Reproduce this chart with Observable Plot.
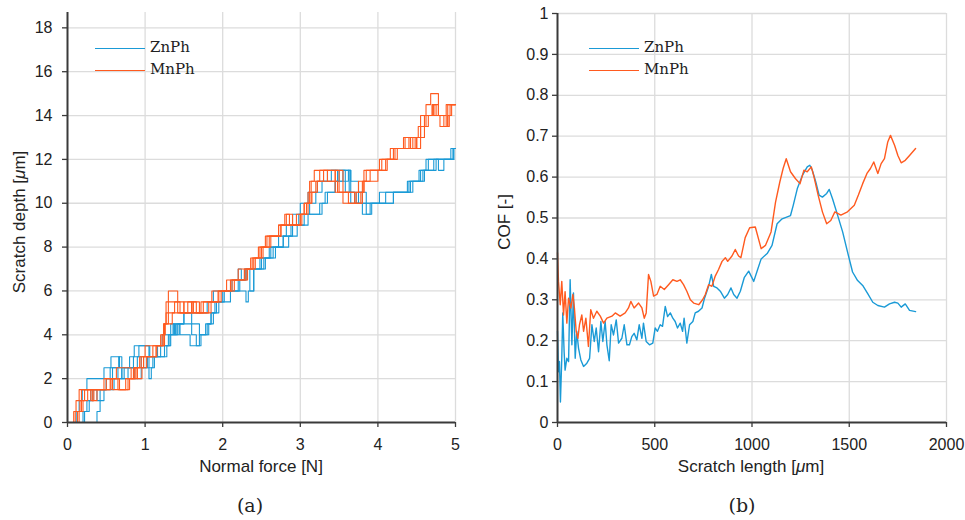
<!DOCTYPE html>
<html>
<head>
<meta charset="utf-8">
<script src="https://cdn.jsdelivr.net/npm/d3@7"></script>
<script src="https://cdn.jsdelivr.net/npm/@observablehq/plot@0.6"></script>
<style>
  html, body { margin: 0; padding: 0; background: #fff; }
  #wrap { position: relative; width: 965px; height: 520px; overflow: hidden; font-family: "Liberation Sans", Arial, sans-serif; color: #222; }
  .panel { position: absolute; top: 0; }
  .t { position: absolute; white-space: nowrap; font-size: 17px; color: #222; transform: translate(-50%, -50%); }
  .rot { transform: translate(-50%, -50%) rotate(-90deg); }
  .cap { position: absolute; font-family: "DejaVu Serif", serif; font-size: 19px; color: #222; transform: translate(-50%, -50%); }
  .leg { position: absolute; font-family: "DejaVu Serif", serif; font-size: 15px; color: #222; }
  .leg div { position: absolute; white-space: nowrap; }
  .leg span.sw { display: inline-block; width: 50px; height: 0; border-top: 1.5px solid; vertical-align: middle; margin-right: 5px; }
</style>
</head>
<body>
<div id="wrap"></div>
<script>
// ---------- data: scratch depth [µm] vs normal force [N], step curves (several runs) ----------
const znRun1 = [[0.08,0],[0.12,0.5],[0.15,1],[0.19,1.5],[0.25,2],[0.47,2.5],[0.56,3],[0.67,2.5],[0.7,2],[0.78,2.5],[0.8,3],[0.86,3.5],[1.06,3],[1.16,3.5],[1.22,4],[1.33,4.5],[1.37,4],[1.4,4.5],[1.5,5],[1.72,5],[1.8,5.5],[1.88,6],[2.05,6],[2.12,6.5],[2.2,7],[2.24,6.5],[2.3,7],[2.42,7],[2.5,7.5],[2.6,8],[2.72,8.5],[2.82,9],[2.9,9.5],[3.0,10],[3.1,10.5],[3.22,11],[3.35,11.5],[3.58,10.5],[3.65,10],[3.75,10.5],[3.8,10],[3.9,10],[4.02,10.5],[4.38,11],[4.53,11.5],[4.62,12],[4.9,12],[4.94,12.5],[5.0,12.5]];
const znRun2 = [[0.35,0],[0.38,0.5],[0.42,1],[0.47,1.5],[0.6,2],[0.73,2.5],[0.86,2],[0.95,2.5],[1.03,3],[1.2,3.5],[1.3,4],[1.38,4.5],[1.45,4],[1.5,4],[1.58,3.5],[1.72,4],[1.78,4.5],[1.85,5],[1.92,5.5],[2.0,6],[2.1,6],[2.25,6],[2.3,5.5],[2.33,6],[2.4,7],[2.53,7.5],[2.68,8],[2.85,8.5],[2.96,9],[3.05,9.5],[3.2,9.5],[3.28,10],[3.32,10.5],[3.45,11],[3.5,11.5],[3.63,10.5],[3.7,10],[3.8,9.5],[3.92,10],[4.05,10],[4.2,10.5],[4.4,11],[4.5,11],[4.55,11.5],[4.7,11.5],[4.75,12],[4.95,12],[4.97,12.5],[5.0,12.5]];
const znRun3 = [[0.15,0],[0.2,0.5],[0.25,1],[0.33,1.5],[0.38,1],[0.42,1.5],[0.5,2],[0.58,2.5],[0.65,2],[0.7,2.5],[0.9,3],[0.95,2.5],[1.05,2],[1.08,2.5],[1.12,3],[1.25,3.5],[1.32,4],[1.42,4.5],[1.5,5],[1.6,4.5],[1.7,4],[1.8,4.5],[1.85,5],[1.9,5.5],[2.05,5.5],[2.1,6],[2.22,6.5],[2.3,7],[2.45,7],[2.55,7.5],[2.65,8],[2.78,8.5],[2.9,9],[3.0,9],[3.1,9.5],[3.25,10],[3.35,10.5],[3.45,11],[3.55,11.5],[3.65,11],[3.75,10.5],[3.85,10],[3.95,10],[4.1,10.5],[4.3,10.5],[4.45,11],[4.6,11.5],[4.65,12],[4.95,12],[4.98,12.5],[5.0,12.5]];
const znRun4 = [[0.2,0],[0.22,0.5],[0.28,1],[0.3,1.5],[0.45,1.5],[0.5,2],[0.55,2.5],[0.62,2.5],[0.66,3],[0.7,2.5],[0.8,2.5],[0.85,3],[0.92,3.5],[1.02,3.5],[1.05,2.5],[1.1,3],[1.2,3],[1.28,3.5],[1.33,4],[1.36,4.5],[1.39,4],[1.44,4.5],[1.55,4.5],[1.6,4],[1.66,3.5],[1.7,4],[1.82,4.5],[1.88,5],[1.95,5.5],[2.02,6],[2.18,6],[2.2,6.5],[2.28,7],[2.35,6],[2.4,7],[2.48,7.5],[2.58,7.5],[2.62,8],[2.75,8],[2.78,8.5],[2.88,9],[2.98,9.5],[3.12,10],[3.2,10.5],[3.28,11],[3.4,11.5],[3.48,11],[3.62,11.5],[3.65,10.5],[3.72,10],[3.85,9.5],[3.9,10],[4.15,10],[4.2,10.5],[4.35,10.5],[4.42,11],[4.58,11.5],[4.72,12],[4.78,11.5],[4.85,12],[4.97,12.5],[5.0,12.5]];
const mnRun1 = [[0.06,0],[0.08,0.5],[0.11,1],[0.15,1.5],[0.3,1],[0.34,1.5],[0.47,2],[0.63,2.5],[0.78,2.5],[0.82,2],[0.9,2.5],[0.95,3],[1.0,3.5],[1.16,3.5],[1.2,4],[1.24,4.5],[1.27,5.5],[1.3,6],[1.4,6],[1.42,5],[1.5,5.5],[1.62,5],[1.72,5.5],[1.8,5.5],[1.86,6],[2.0,6],[2.05,6.5],[2.14,6.5],[2.2,7],[2.33,7],[2.4,7.5],[2.48,8],[2.57,8.5],[2.72,9],[2.85,9],[3.0,9.5],[3.05,10],[3.12,11],[3.18,11.5],[3.42,11.5],[3.45,10.5],[3.55,10],[3.77,10],[3.8,11],[3.85,11.5],[4.05,11.5],[4.1,12],[4.16,12.5],[4.3,12.5],[4.35,13],[4.5,13],[4.55,14],[4.62,14.5],[4.68,15],[4.75,15],[4.78,14],[4.85,13.5],[4.9,14.5],[5.0,14.5]];
const mnRun2 = [[0.1,0],[0.13,0.5],[0.2,1],[0.26,1.5],[0.5,1.5],[0.56,2],[0.65,1.5],[0.78,2],[0.88,2.5],[0.98,3],[1.08,3],[1.15,3.5],[1.22,4],[1.26,4.5],[1.3,4.5],[1.35,5],[1.45,5],[1.55,5.5],[1.6,5],[1.8,5],[1.85,5.5],[1.98,6],[2.1,6.5],[2.28,7],[2.36,7.5],[2.46,8],[2.6,8.5],[2.75,9],[2.9,9],[2.95,9.5],[3.08,10],[3.15,10.5],[3.22,11],[3.4,11],[3.48,10.5],[3.6,10.5],[3.7,10],[3.78,10.5],[3.82,11],[4.0,11.5],[4.12,12],[4.25,12.5],[4.4,13],[4.45,12.5],[4.5,13],[4.55,13.5],[4.62,14],[4.7,14.5],[4.72,14],[4.8,13.5],[4.92,14],[4.95,14.5],[5.0,14.5]];
const mnRun3 = [[0.12,0],[0.15,0.5],[0.18,1],[0.22,1.5],[0.4,1.5],[0.5,2],[0.58,1.5],[0.7,1.5],[0.75,2],[0.85,2.5],[0.93,3],[1.05,3],[1.1,3.5],[1.18,3.5],[1.25,4.5],[1.3,5],[1.38,5.5],[1.5,5],[1.6,5.5],[1.7,5],[1.78,5],[1.82,5.5],[1.95,6],[2.05,6],[2.15,6.5],[2.3,7],[2.38,7.5],[2.52,8],[2.62,8.5],[2.75,9],[2.82,9.5],[2.9,9],[3.0,9.5],[3.05,10],[3.1,10.5],[3.2,11],[3.3,11.5],[3.5,11.5],[3.55,10.5],[3.7,10.5],[3.75,11],[3.9,11.5],[4.05,12],[4.2,12.5],[4.33,13],[4.42,12.5],[4.48,13],[4.52,13.5],[4.6,14],[4.7,14.5],[4.75,14],[4.85,14],[4.88,14.5],[5.0,14.5]];
const mnRun4 = [[0.08,0],[0.1,0.5],[0.16,1],[0.18,1.5],[0.28,1.5],[0.32,1],[0.38,1.5],[0.55,2],[0.6,2],[0.67,1.5],[0.75,1.5],[0.8,2],[0.86,2.5],[0.9,2],[0.96,2.5],[1.02,3],[1.1,3],[1.14,3.5],[1.22,3.5],[1.24,4.5],[1.27,5],[1.3,5.5],[1.42,5.5],[1.45,5],[1.55,5],[1.62,5.5],[1.66,5],[1.75,5.5],[1.9,5.5],[1.94,6],[2.08,6],[2.12,6.5],[2.25,6.5],[2.32,7],[2.42,7.5],[2.5,8],[2.55,8.5],[2.68,8.5],[2.72,9],[2.8,9.5],[2.86,9],[2.96,9],[3.02,9.5],[3.1,10],[3.14,11],[3.25,11.5],[3.35,11],[3.45,11.5],[3.5,10.5],[3.62,10],[3.72,10.5],[3.82,11.5],[3.95,11.5],[4.02,12],[4.18,12],[4.22,12.5],[4.38,12.5],[4.42,13],[4.5,12.5],[4.55,13],[4.6,13.5],[4.65,14],[4.72,14.5],[4.78,14],[4.88,13.5],[4.9,14],[4.93,14.5],[5.0,14.5]];

// ---------- data: COF vs scratch length [µm] ----------
const znCof = [[0,0.223],[5,0.124],[10,0.149],[15,0.05],[22,0.157],[27,0.268],[34,0.173],[39,0.128],[48,0.157],[57,0.149],[65,0.349],[74,0.19],[82,0.317],[91,0.157],[99,0.223],[108,0.182],[120,0.153],[134,0.137],[151,0.145],[165,0.157],[177,0.239],[189,0.198],[199,0.231],[211,0.173],[223,0.247],[233,0.198],[245,0.247],[254,0.19],[266,0.151],[276,0.239],[288,0.214],[302,0.251],[314,0.194],[331,0.206],[343,0.239],[357,0.19],[370,0.19],[382,0.21],[394,0.218],[408,0.202],[420,0.239],[434,0.206],[442,0.243],[456,0.198],[473,0.19],[490,0.194],[502,0.231],[514,0.223],[528,0.239],[540,0.235],[554,0.284],[566,0.259],[580,0.268],[593,0.255],[605,0.247],[617,0.231],[631,0.243],[643,0.223],[651,0.255],[665,0.194],[679,0.239],[696,0.247],[708,0.268],[725,0.272],[743,0.28],[756,0.304],[777,0.333],[791,0.362],[803,0.333],[820,0.329],[837,0.321],[858,0.304],[875,0.313],[892,0.329],[906,0.313],[923,0.304],[940,0.321],[960,0.354],[983,0.37],[1009,0.345],[1026,0.37],[1047,0.40],[1078,0.413],[1103,0.433],[1129,0.486],[1155,0.498],[1198,0.506],[1212,0.531],[1233,0.572],[1259,0.604],[1284,0.625],[1297,0.629],[1310,0.617],[1328,0.588],[1345,0.556],[1362,0.551],[1384,0.56],[1397,0.57],[1414,0.547],[1440,0.507],[1466,0.466],[1491,0.417],[1517,0.368],[1543,0.347],[1569,0.335],[1595,0.315],[1621,0.294],[1647,0.286],[1681,0.282],[1707,0.29],[1733,0.294],[1750,0.292],[1767,0.282],[1788,0.29],[1810,0.274],[1841,0.271]];
const mnCof = [[0,0.415],[5,0.345],[14,0.288],[22,0.345],[31,0.263],[39,0.32],[48,0.243],[57,0.304],[69,0.28],[79,0.313],[87,0.28],[96,0.223],[105,0.206],[113,0.239],[125,0.263],[134,0.223],[146,0.255],[159,0.186],[171,0.276],[185,0.255],[202,0.272],[220,0.26],[237,0.243],[254,0.255],[280,0.26],[297,0.268],[322,0.26],[348,0.268],[365,0.28],[377,0.296],[394,0.28],[417,0.292],[434,0.28],[446,0.255],[456,0.268],[468,0.362],[480,0.345],[494,0.309],[511,0.313],[528,0.333],[549,0.325],[571,0.337],[593,0.349],[614,0.345],[631,0.349],[648,0.337],[665,0.321],[683,0.30],[700,0.292],[726,0.288],[746,0.30],[760,0.313],[777,0.337],[794,0.333],[811,0.358],[828,0.374],[846,0.394],[863,0.403],[875,0.394],[897,0.407],[914,0.423],[931,0.407],[943,0.403],[965,0.452],[988,0.476],[1017,0.478],[1047,0.425],[1069,0.433],[1098,0.466],[1121,0.539],[1143,0.588],[1160,0.621],[1176,0.645],[1198,0.613],[1224,0.596],[1247,0.584],[1267,0.617],[1284,0.613],[1305,0.625],[1319,0.60],[1340,0.556],[1362,0.515],[1384,0.486],[1405,0.494],[1426,0.515],[1457,0.507],[1491,0.515],[1526,0.531],[1547,0.556],[1569,0.584],[1591,0.609],[1609,0.621],[1626,0.637],[1647,0.609],[1664,0.633],[1681,0.645],[1698,0.686],[1712,0.702],[1733,0.678],[1750,0.653],[1767,0.635],[1788,0.641],[1810,0.653],[1841,0.67]];

// ---------- ticks / labels ----------
const forceTicks = [0, 1, 2, 3, 4, 5];
const depthTicks = [0, 2, 4, 6, 8, 10, 12, 14, 16, 18];
const lengthTicks = [0, 500, 1000, 1500, 2000];
const cofTicks = [0, 0.1, 0.2, 0.3, 0.4, 0.5, 0.6, 0.7, 0.8, 0.9, 1];
const seriesNames = ["ZnPh", "MnPh"];
const seriesColors = ["#1a9ad6", "#ff5a1f"];

const colorOf = {ZnPh: seriesColors[0], MnPh: seriesColors[1]};
const gridColor = "#dcdcdc";
const axisColor = "#3a3a3a";

const depthRows = [];
[["ZnPh", znRun1], ["ZnPh", znRun2], ["ZnPh", znRun3], ["ZnPh", znRun4], ["MnPh", mnRun1], ["MnPh", mnRun2], ["MnPh", mnRun3], ["MnPh", mnRun4]].forEach(([m, run], i) => {
  run.forEach(([f, d]) => depthRows.push({mat: m, run: i, f, d}));
});
const cofRows = [];
[["ZnPh", znCof], ["MnPh", mnCof]].forEach(([m, arr]) => arr.forEach(([x, y]) => cofRows.push({mat: m, x, y})));

const wrap = document.getElementById("wrap");

const common = {
  height: 480,
  marginTop: 12,
  marginBottom: 58,
  style: {fontFamily: "'Liberation Sans', Arial, sans-serif", fontSize: "16px", color: "#222", background: "transparent", overflow: "visible"}
};

const left = Plot.plot({
  ...common,
  width: 480,
  marginLeft: 67,
  marginRight: 25,
  x: {domain: [0, 5]},
  y: {domain: [0, 18.7]},
  marks: [
    Plot.gridX(forceTicks.slice(1), {stroke: gridColor, strokeOpacity: 1, strokeWidth: 1.3}),
    Plot.gridY(depthTicks.slice(1), {stroke: gridColor, strokeOpacity: 1, strokeWidth: 1.3}),
    Plot.line(depthRows, {x: "f", y: "d", z: "run", stroke: d => colorOf[d.mat], strokeWidth: 1.1, curve: "step-after"}),
    Plot.axisX(forceTicks, {tickSize: 5, tickPadding: 11, label: null, stroke: axisColor, strokeWidth: 1.3, tickFormat: d => String(d)}),
    Plot.axisY(depthTicks, {tickSize: 5, tickPadding: 10, label: null, stroke: axisColor, strokeWidth: 1.3, tickFormat: d => String(d)}),
    Plot.ruleX([0], {stroke: axisColor, strokeWidth: 2}),
    Plot.ruleY([0], {stroke: axisColor, strokeWidth: 2})
  ]
});
left.classList.add("panel");
left.style.left = "0px";
wrap.appendChild(left);

const right = Plot.plot({
  ...common,
  marginTop: 13,
  width: 485,
  marginLeft: 77,
  marginRight: 19,
  x: {domain: [0, 2000]},
  y: {domain: [0, 1]},
  marks: [
    Plot.gridX(lengthTicks.slice(1), {stroke: gridColor, strokeOpacity: 1, strokeWidth: 1.3}),
    Plot.gridY(cofTicks.slice(1), {stroke: gridColor, strokeOpacity: 1, strokeWidth: 1.3}),
    Plot.line(cofRows, {x: "x", y: "y", z: "mat", stroke: d => colorOf[d.mat], strokeWidth: 1.4}),
    Plot.axisX(lengthTicks, {tickSize: 5, tickPadding: 11, label: null, stroke: axisColor, strokeWidth: 1.3, tickFormat: d => String(d)}),
    Plot.axisY(cofTicks, {tickSize: 5, tickPadding: 4, label: null, stroke: axisColor, strokeWidth: 1.3, tickFormat: d => String(d)}),
    Plot.ruleX([0], {stroke: axisColor, strokeWidth: 2}),
    Plot.ruleY([0], {stroke: axisColor, strokeWidth: 2})
  ]
});
right.classList.add("panel");
right.style.left = "480px";
wrap.appendChild(right);

function addText(cls, html, x, y) {
  const el = document.createElement("div");
  el.className = cls;
  el.innerHTML = html;
  el.style.left = x + "px";
  el.style.top = y + "px";
  wrap.appendChild(el);
}
addText("t", "Normal force [N]", 261, 467);
addText("t rot", "Scratch depth [<i>μ</i>m]", 20, 222);
addText("t", "Scratch length [<i>μ</i>m]", 751, 467);
addText("t rot", "COF [-]", 505, 222);
addText("cap", "(a)", 250, 505);
addText("cap", "(b)", 742, 505);

function addLegend(x, y) {
  const leg = document.createElement("div");
  leg.className = "leg";
  leg.style.left = x + "px";
  leg.style.top = y + "px";
  seriesNames.forEach((n, i) => {
    const row = document.createElement("div");
    row.style.top = (i * 22) + "px";
    row.style.left = "0px";
    row.innerHTML = `<span class="sw" style="border-color:${seriesColors[i]}"></span>${n}`;
    leg.appendChild(row);
  });
  wrap.appendChild(leg);
}
addLegend(95, 38);
addLegend(589, 38);
</script>
</body>
</html>
